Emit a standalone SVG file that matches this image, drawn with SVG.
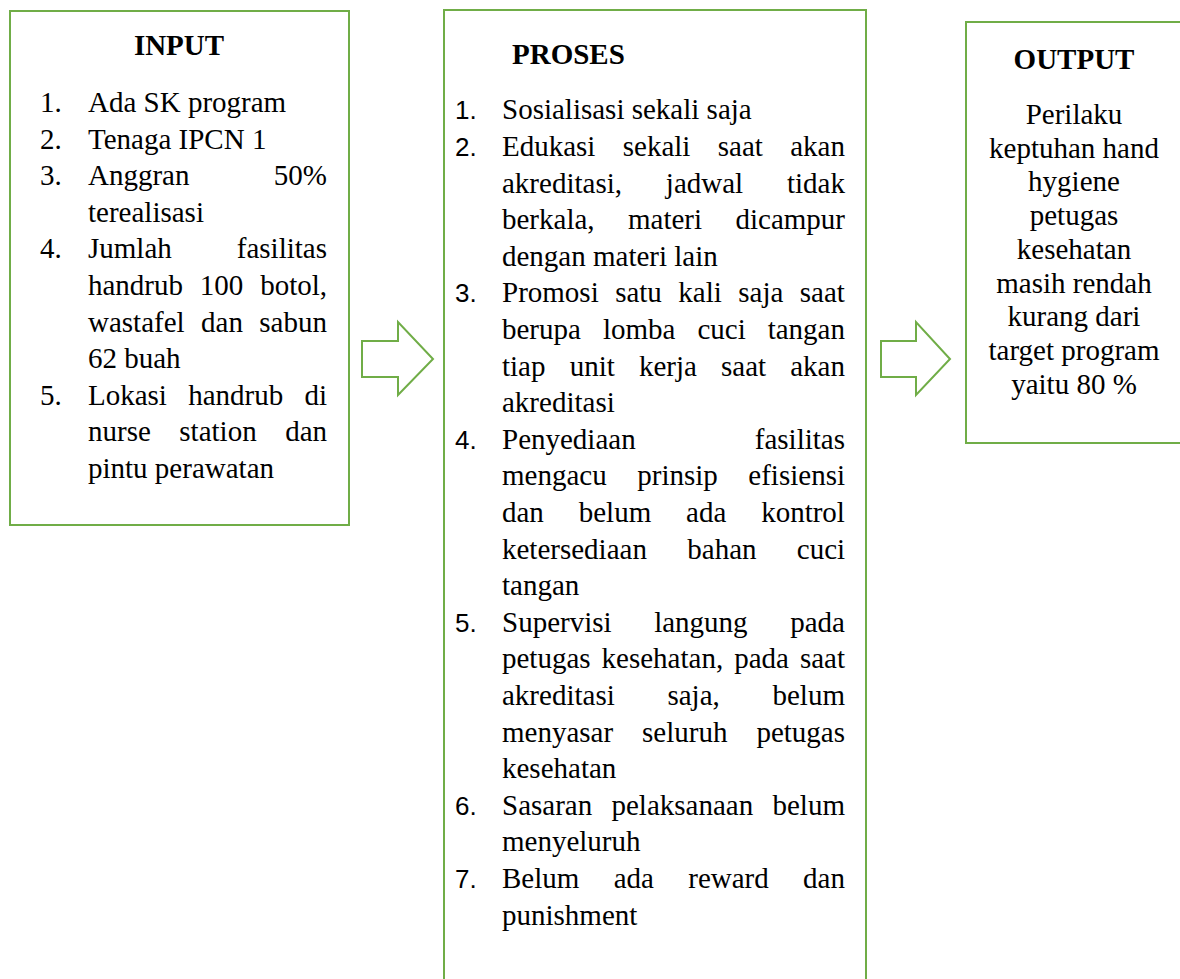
<svg xmlns="http://www.w3.org/2000/svg" width="1180" height="979" viewBox="0 0 1180 979">
<style>
.box{fill:#fff;stroke:#70AD47;stroke-width:2}
.arr{fill:#fff;stroke:#70AD47;stroke-width:2;stroke-linejoin:miter}
.t{font-family:"Liberation Serif","Times New Roman",serif;font-size:29px;fill:#000}
.b{font-family:"Liberation Serif","Times New Roman",serif;font-size:29px;font-weight:bold;fill:#000}
.n{font-family:"Liberation Sans",Arial,sans-serif;font-size:26px;fill:#000}
.c{text-anchor:middle}
</style>
<rect width="1180" height="979" fill="#fff"/>
<g id="connectors">
<polygon class="arr" points="362,341 398,341 398,322 433,359 398,395 398,377 362,377"/>
<polygon class="arr" points="881,341 916,341 916,322 950,359 916,395 916,377 881,377"/>
</g>
<g id="input">
<rect class="box" x="10" y="11" width="339" height="514"/>
<text class="b c" x="179" y="55">INPUT</text>
<text class="t" x="40" y="112">1.</text>
<text class="t" x="40" y="148.6">2.</text>
<text class="t" x="40" y="185.2">3.</text>
<text class="t" x="40" y="258.4">4.</text>
<text class="t" x="40" y="404.8">5.</text>
<text class="t" x="88" y="112">Ada SK program</text>
<text class="t" x="88" y="148.6">Tenaga IPCN 1</text>
<text class="t" x="88" y="185.2" word-spacing="77.1">Anggran 50%</text>
<text class="t" x="88" y="221.8">terealisasi</text>
<text class="t" x="88" y="258.4" word-spacing="57.75">Jumlah fasilitas</text>
<text class="t" x="88" y="295" word-spacing="9.55">handrub 100 botol,</text>
<text class="t" x="88" y="331.6" word-spacing="9.15">wastafel dan sabun</text>
<text class="t" x="88" y="368.2">62 buah</text>
<text class="t" x="88" y="404.8" word-spacing="14">Lokasi handrub di</text>
<text class="t" x="88" y="441.4" word-spacing="21.25">nurse station dan</text>
<text class="t" x="88" y="478">pintu perawatan</text>
</g>
<g id="proses">
<rect class="box" x="444" y="10" width="422" height="1000"/>
<text class="b" x="512" y="64">PROSES</text>
<text class="n" x="455" y="119.3">1.</text>
<text class="n" x="455" y="155.9">2.</text>
<text class="n" x="455" y="302.3">3.</text>
<text class="n" x="455" y="448.7">4.</text>
<text class="n" x="455" y="631.7">5.</text>
<text class="n" x="455" y="814.7">6.</text>
<text class="n" x="455" y="887.9">7.</text>
<text class="t" x="502" y="119.3">Sosialisasi sekali saja</text>
<text class="t" x="502" y="155.9" word-spacing="20.1">Edukasi sekali saat akan</text>
<text class="t" x="502" y="192.5" word-spacing="36.6">akreditasi, jadwal tidak</text>
<text class="t" x="502" y="229.1" word-spacing="26.15">berkala, materi dicampur</text>
<text class="t" x="502" y="265.7">dengan materi lain</text>
<text class="t" x="502" y="302.3" word-spacing="9.2">Promosi satu kali saja saat</text>
<text class="t" x="502" y="338.9" word-spacing="14.75">berupa lomba cuci tangan</text>
<text class="t" x="502" y="375.5" word-spacing="16.9">tiap unit kerja saat akan</text>
<text class="t" x="502" y="412.1">akreditasi</text>
<text class="t" x="502" y="448.7" word-spacing="111.85">Penyediaan fasilitas</text>
<text class="t" x="502" y="485.3" word-spacing="23.3">mengacu prinsip efisiensi</text>
<text class="t" x="502" y="521.9" word-spacing="27.6">dan belum ada kontrol</text>
<text class="t" x="502" y="558.5" word-spacing="33.1">ketersediaan bahan cuci</text>
<text class="t" x="502" y="595.1">tangan</text>
<text class="t" x="502" y="631.7" word-spacing="35.35">Supervisi langung pada</text>
<text class="t" x="502" y="668.3" word-spacing="3.75">petugas kesehatan, pada saat</text>
<text class="t" x="502" y="704.9" word-spacing="45.45">akreditasi saja, belum</text>
<text class="t" x="502" y="741.5" word-spacing="21.7">menyasar seluruh petugas</text>
<text class="t" x="502" y="778.1">kesehatan</text>
<text class="t" x="502" y="814.7" word-spacing="12.05">Sasaran pelaksanaan belum</text>
<text class="t" x="502" y="851.3">menyeluruh</text>
<text class="t" x="502" y="887.9" word-spacing="27.1">Belum ada reward dan</text>
<text class="t" x="502" y="924.5">punishment</text>
</g>
<g id="output">
<rect class="box" x="966" y="22" width="300" height="421"/>
<text class="b c" x="1074" y="69">OUTPUT</text>
<text class="t c" x="1074" y="124">Perilaku</text>
<text class="t c" x="1074" y="157.7">keptuhan hand</text>
<text class="t c" x="1074" y="191.4">hygiene</text>
<text class="t c" x="1074" y="225.1">petugas</text>
<text class="t c" x="1074" y="258.8">kesehatan</text>
<text class="t c" x="1074" y="292.5">masih rendah</text>
<text class="t c" x="1074" y="326.2">kurang dari</text>
<text class="t c" x="1074" y="359.9">target program</text>
<text class="t c" x="1074" y="393.6">yaitu 80 %</text>
</g>
</svg>
